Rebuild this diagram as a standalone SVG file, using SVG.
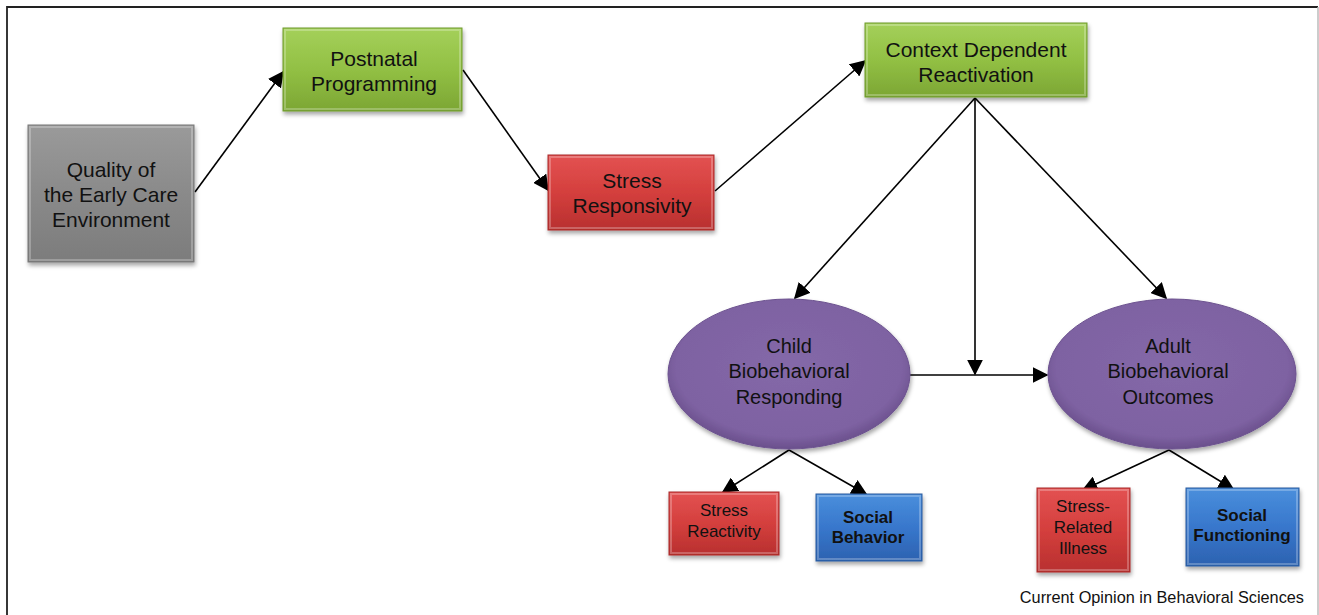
<svg xmlns="http://www.w3.org/2000/svg" width="1319" height="615" viewBox="0 0 1319 615">
<defs>
<linearGradient id="gGray" x1="0" y1="0" x2="0" y2="1"><stop offset="0" stop-color="#9a9a9a"/><stop offset="0.5" stop-color="#8a8a8a"/><stop offset="1" stop-color="#7c7c7c"/></linearGradient>
<linearGradient id="gGreen" x1="0" y1="0" x2="0" y2="1"><stop offset="0" stop-color="#a4d05a"/><stop offset="0.5" stop-color="#92c044"/><stop offset="1" stop-color="#7ca634"/></linearGradient>
<linearGradient id="gRed" x1="0" y1="0" x2="0" y2="1"><stop offset="0" stop-color="#e35252"/><stop offset="0.5" stop-color="#d43f3d"/><stop offset="1" stop-color="#b8302f"/></linearGradient>
<linearGradient id="gBlue" x1="0" y1="0" x2="0" y2="1"><stop offset="0" stop-color="#4a8fdc"/><stop offset="0.5" stop-color="#3877cc"/><stop offset="1" stop-color="#2c62b0"/></linearGradient>
<radialGradient id="gPurple" cx="0.5" cy="0.45" r="0.55"><stop offset="0" stop-color="#8468a8"/><stop offset="0.85" stop-color="#7e62a2"/><stop offset="1" stop-color="#6a4f8c"/></radialGradient>
<filter id="sh" x="-10%" y="-10%" width="130%" height="130%"><feDropShadow dx="1" dy="3" stdDeviation="2" flood-color="#000" flood-opacity="0.35"/></filter>
<marker id="ahL" viewBox="0 0 10 10" refX="9" refY="5" markerWidth="16" markerHeight="16" markerUnits="userSpaceOnUse" orient="auto"><path d="M0,0 L10,5 L0,10 z" fill="#000"/></marker>
</defs>
<style>
.t{font-family:"Liberation Sans",Arial,sans-serif;font-size:21px;fill:#111;text-anchor:middle}
.e{font-family:"Liberation Sans",Arial,sans-serif;font-size:20px;fill:#111;text-anchor:middle}
.s{font-family:"Liberation Sans",Arial,sans-serif;font-size:17px;fill:#111;text-anchor:middle}
.b{font-family:"Liberation Sans",Arial,sans-serif;font-size:17px;font-weight:bold;fill:#111;text-anchor:middle}
.c{font-family:"Liberation Sans",Arial,sans-serif;font-size:16.3px;fill:#111;text-anchor:end}
.ln{stroke:#000;stroke-width:1.6;fill:none}
.hl{fill:none;stroke:#fff;stroke-opacity:0.25;stroke-width:2}
</style>
<rect x="0" y="0" width="1319" height="615" fill="#fff"/>
<path d="M7,615 V7 H1318" fill="none" stroke="#222" stroke-width="1.8"/>
<path d="M1318,7 V615" fill="none" stroke="#bbb" stroke-width="1.5"/>

<g id="connectors">
<line class="ln" x1="195" y1="192" x2="283" y2="72" marker-end="url(#ahL)"/>
<line class="ln" x1="463" y1="70" x2="548" y2="190" marker-end="url(#ahL)"/>
<line class="ln" x1="715" y1="191" x2="865" y2="61" marker-end="url(#ahL)"/>
<line class="ln" x1="975" y1="98" x2="795" y2="298" marker-end="url(#ahL)"/>
<line class="ln" x1="975" y1="98" x2="975" y2="374" marker-end="url(#ahL)"/>
<line class="ln" x1="975" y1="98" x2="1166" y2="298" marker-end="url(#ahL)"/>
<line class="ln" x1="910" y1="375" x2="1047" y2="375" marker-end="url(#ahL)"/>
<line class="ln" x1="789" y1="450" x2="723" y2="492" marker-end="url(#ahL)"/>
<line class="ln" x1="789" y1="450" x2="866" y2="494" marker-end="url(#ahL)"/>
<line class="ln" x1="1169" y1="450" x2="1083" y2="490" marker-end="url(#ahL)"/>
<line class="ln" x1="1169" y1="450" x2="1233" y2="489" marker-end="url(#ahL)"/>
</g>

<g id="quality">
<rect x="28" y="125" width="166" height="137" fill="url(#gGray)" stroke="#777" stroke-width="1" filter="url(#sh)"/>
<rect x="30" y="127" width="162" height="133" class="hl"/>
<text class="t" x="111" y="177">Quality of</text>
<text class="t" x="111" y="202">the Early Care</text>
<text class="t" x="111" y="227">Environment</text>
</g>

<g id="postnatal">
<rect x="283" y="28" width="179" height="83" fill="url(#gGreen)" stroke="#6e9a2e" stroke-width="1" filter="url(#sh)"/>
<rect x="285" y="30" width="175" height="79" class="hl"/>
<text class="t" x="374" y="66">Postnatal</text>
<text class="t" x="374" y="91">Programming</text>
</g>

<g id="stressResp">
<rect x="548" y="155" width="166" height="75" fill="url(#gRed)" stroke="#a82a2a" stroke-width="1" filter="url(#sh)"/>
<rect x="550" y="157" width="162" height="71" class="hl"/>
<text class="t" x="632" y="188">Stress</text>
<text class="t" x="632" y="213">Responsivity</text>
</g>

<g id="context">
<rect x="865" y="23" width="222" height="74" fill="url(#gGreen)" stroke="#6e9a2e" stroke-width="1" filter="url(#sh)"/>
<rect x="867" y="25" width="218" height="70" class="hl"/>
<text class="t" x="976" y="57">Context Dependent</text>
<text class="t" x="976" y="82">Reactivation</text>
</g>

<g id="child">
<ellipse cx="789" cy="374" rx="121" ry="75" fill="url(#gPurple)" stroke="#6c528f" stroke-width="1" filter="url(#sh)"/>
<text class="e" x="789" y="353">Child</text>
<text class="e" x="789" y="378">Biobehavioral</text>
<text class="e" x="789" y="404">Responding</text>
</g>

<g id="adult">
<ellipse cx="1172" cy="374" rx="124" ry="75" fill="url(#gPurple)" stroke="#6c528f" stroke-width="1" filter="url(#sh)"/>
<text class="e" x="1168" y="353">Adult</text>
<text class="e" x="1168" y="378">Biobehavioral</text>
<text class="e" x="1168" y="404">Outcomes</text>
</g>

<g id="stressReact">
<rect x="669" y="492" width="110" height="63" fill="url(#gRed)" stroke="#a82a2a" stroke-width="1" filter="url(#sh)"/>
<rect x="671" y="494" width="106" height="59" class="hl"/>
<text class="s" x="724" y="516">Stress</text>
<text class="s" x="724" y="537">Reactivity</text>
</g>

<g id="socialBehavior">
<rect x="816" y="494" width="106" height="67" fill="url(#gBlue)" stroke="#2a5a9e" stroke-width="1" filter="url(#sh)"/>
<rect x="818" y="496" width="102" height="63" class="hl"/>
<text class="b" x="868" y="523">Social</text>
<text class="b" x="868" y="543">Behavior</text>
</g>

<g id="illness">
<rect x="1037" y="488" width="93" height="84" fill="url(#gRed)" stroke="#a82a2a" stroke-width="1" filter="url(#sh)"/>
<rect x="1039" y="490" width="89" height="80" class="hl"/>
<text class="s" x="1083" y="512">Stress-</text>
<text class="s" x="1083" y="533">Related</text>
<text class="s" x="1083" y="554">Illness</text>
</g>

<g id="socialFunctioning">
<rect x="1186" y="488" width="113" height="78" fill="url(#gBlue)" stroke="#2a5a9e" stroke-width="1" filter="url(#sh)"/>
<rect x="1188" y="490" width="109" height="74" class="hl"/>
<text class="b" x="1242" y="521">Social</text>
<text class="b" x="1242" y="541">Functioning</text>
</g>

<text class="c" x="1304" y="603">Current Opinion in Behavioral Sciences</text>
</svg>
